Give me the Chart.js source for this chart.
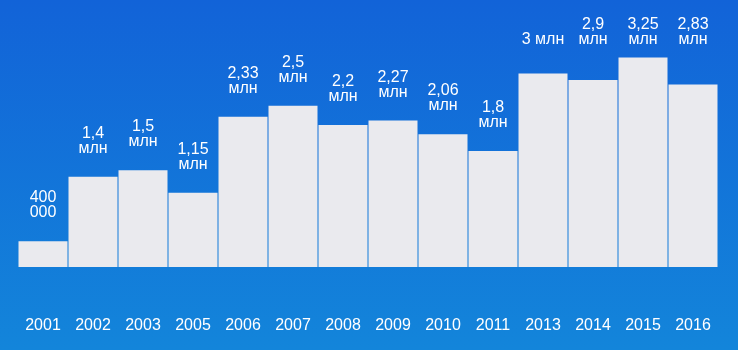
<!DOCTYPE html>
<html>
<head>
<meta charset="utf-8">
<script src="https://cdn.jsdelivr.net/npm/chart.js@4/dist/chart.umd.min.js"></script>
<style>
  html, body { margin: 0; padding: 0; background: #1373d9; }
  canvas { display: block; }
</style>
</head>
<body>
<canvas id="chart" width="738" height="350"></canvas>
<script>
// Years shown along the bottom
const years = ['2001', '2002', '2003', '2005', '2006', '2007', '2008', '2009', '2010', '2011', '2013', '2014', '2015', '2016'];
// Values in millions
const values = [0.4, 1.4, 1.5, 1.15, 2.33, 2.5, 2.2, 2.27, 2.06, 1.8, 3, 2.9, 3.25, 2.83];
// Text written above each bar
const valueLabels = ['400 000', '1,4 млн', '1,5 млн', '1,15 млн', '2,33 млн', '2,5 млн', '2,2 млн', '2,27 млн', '2,06 млн', '1,8 млн', '3 млн', '2,9 млн', '3,25 млн', '2,83 млн'];

const FONT = '"Liberation Sans", Arial, sans-serif';

// Blue vertical gradient behind everything
const backgroundPlugin = {
  id: 'bg',
  beforeDraw(chart) {
    const { ctx, width, height } = chart;
    const g = ctx.createLinearGradient(0, 0, 0, height);
    g.addColorStop(0, '#1263d8');
    g.addColorStop(1, '#1385da');
    ctx.save();
    ctx.fillStyle = g;
    ctx.fillRect(0, 0, width, height);
    ctx.restore();
  }
};

// Value captions above bars, wrapped to the bar width
const valueLabelPlugin = {
  id: 'valueLabels',
  afterDatasetsDraw(chart) {
    const { ctx } = chart;
    const meta = chart.getDatasetMeta(0);
    ctx.save();
    ctx.font = '16px ' + FONT;
    ctx.fillStyle = '#ffffff';
    ctx.textAlign = 'center';
    ctx.textBaseline = 'alphabetic';
    meta.data.forEach((bar, i) => {
      const text = valueLabels[i];
      let lines = [text];
      if (ctx.measureText(text).width > 44) {
        const k = text.indexOf(' ');
        lines = [text.slice(0, k), text.slice(k + 1)];
      }
      let baseline = bar.y - 24;
      if (baseline < 70) baseline = 44; // tall bars: captions share one row at the top
      const lh = 15;
      lines.forEach((ln, j) => {
        ctx.fillText(ln, bar.x, baseline - (lines.length - 1 - j) * lh);
      });
    });
    ctx.restore();
  }
};

new Chart(document.getElementById('chart'), {
  type: 'bar',
  data: {
    labels: years,
    datasets: [{
      data: values,
      backgroundColor: '#eaeaee',
      borderWidth: 0,
      categoryPercentage: 1,
      barPercentage: 0.98
    }]
  },
  options: {
    responsive: false,
    devicePixelRatio: 1,
    animation: false,
    layout: { padding: { top: 9, left: 18, right: 20, bottom: 0 } },
    plugins: {
      legend: { display: false },
      tooltip: { enabled: false },
      title: { display: false }
    },
    scales: {
      x: {
        grid: { display: false, drawTicks: false },
        border: { display: false },
        ticks: {
          color: '#ffffff',
          font: { family: FONT, size: 16 },
          padding: 49,
          maxRotation: 0,
          autoSkip: false
        },
        afterFit(scale) {
          scale.height = 83;
          scale.paddingLeft = 0;
          scale.paddingRight = 0;
        }
      },
      y: {
        display: false,
        min: 0,
        max: 4
      }
    }
  },
  plugins: [backgroundPlugin, valueLabelPlugin]
});
</script>
</body>
</html>
